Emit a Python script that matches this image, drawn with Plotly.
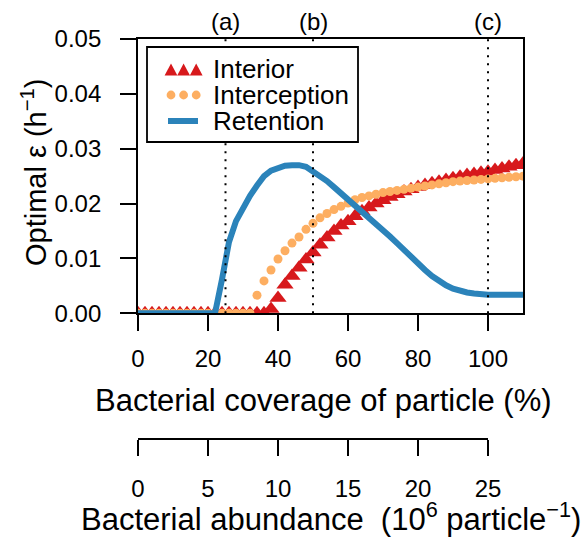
import plotly.graph_objects as go

# ---- data ----
coverage = [0, 2, 4, 6, 8, 10, 12, 14, 16, 18, 20, 22, 24, 26, 28, 30, 32, 34, 36, 38,
            40, 42, 44, 46, 48, 50, 52, 54, 56, 58, 60, 62, 64, 66, 68, 70, 72, 74, 76, 78,
            80, 82, 84, 86, 88, 90, 92, 94, 96, 98, 100, 102, 104, 106, 108, 110]

interior = [0, 0, 0, 0, 0, 0, 0, 0, 0, 0, 0, 0, 0, 0, 0, 0, 0, 0, 0, 0.0008,
            0.0028, 0.0052, 0.0068, 0.0083, 0.0098, 0.0111, 0.0125, 0.0138, 0.0150, 0.0160,
            0.0168, 0.0177, 0.0186, 0.0193, 0.0200, 0.0206, 0.0212, 0.0217, 0.0222, 0.0226,
            0.0230, 0.0234, 0.0237, 0.0240, 0.0243, 0.0246, 0.0249, 0.0252, 0.0254, 0.0256,
            0.0258, 0.0261, 0.0264, 0.0267, 0.0270, 0.0273]

interception = [0, 0, 0, 0, 0, 0, 0, 0, 0, 0, 0, 0, 0, 0, 0, 0, 0, 0.0033, 0.0059, 0.0079,
                0.0099, 0.0114, 0.0128, 0.0139, 0.0153, 0.0164, 0.0174, 0.0182, 0.0189, 0.0195,
                0.0201, 0.0207, 0.0211, 0.0214, 0.0217, 0.0220, 0.0222, 0.0224, 0.0226, 0.0228,
                0.0230, 0.0232, 0.0234, 0.0236, 0.0238, 0.0240, 0.0241, 0.0242, 0.0243, 0.0244,
                0.0245, 0.0246, 0.0247, 0.0248, 0.0249, 0.0250]

retention = [0, 0, 0, 0, 0, 0, 0, 0, 0, 0, 0, 0, 0.0062, 0.0130, 0.0168, 0.0194, 0.0214, 0.0233, 0.0250, 0.0260,
             0.0266, 0.0269, 0.0270, 0.0270, 0.0267, 0.0259, 0.0250, 0.0241, 0.0230, 0.0219,
             0.0208, 0.0198, 0.0187, 0.0176, 0.0164, 0.0152, 0.0140, 0.0128, 0.0115, 0.0103,
             0.0091, 0.0079, 0.0068, 0.0059, 0.0051, 0.0045, 0.0041, 0.0038, 0.0036, 0.0034,
             0.0034, 0.0034, 0.0034, 0.0034, 0.0034, 0.0034]

x_ticks = [0, 20, 40, 60, 80, 100]
y_ticks = [0.00, 0.01, 0.02, 0.03, 0.04, 0.05]
abundance_ticks = [0, 5, 10, 15, 20, 25]          # 10^6 particle^-1
abundance_per_percent = 0.25                        # 25 (10^6) <-> 100 %
marker_x = [25, 50, 100]
marker_labels = ["(a)", "(b)", "(c)"]
series_names = ["Interior", "Interception", "Retention"]

RED, ORANGE, BLUE = "#d7191c", "#fdae61", "#2b83ba"
FONT = "Liberation Sans, Arial, Helvetica, sans-serif"

W, H = 582, 541
ML, MR, MT, MB = 138, 59, 39, 91
pw = W - ML - MR
ph = H - MT - MB


def px(pix):  # pixel column -> paper x
    return (pix - ML) / pw


def py(pix):  # pixel row -> paper y
    return (H - MB - pix) / ph


d0 = py(313.3)
x2pos = py(439)

fig = go.Figure()
fig.add_trace(go.Scatter(x=coverage, y=interior, mode="markers", name=series_names[0],
                         marker=dict(symbol="triangle-up", size=15, color=RED), showlegend=False))
fig.add_trace(go.Scatter(x=coverage, y=interception, mode="markers", name=series_names[1],
                         marker=dict(symbol="circle", size=9, color=ORANGE), showlegend=False))
fig.add_trace(go.Scatter(x=coverage, y=retention, mode="lines", name=series_names[2],
                         line=dict(color=BLUE, width=6), showlegend=False))
# invisible companion on the abundance axis so that axis is rendered
fig.add_trace(go.Scatter(x=[c * abundance_per_percent for c in coverage], y=retention,
                         xaxis="x2", yaxis="y", mode="lines", opacity=0,
                         showlegend=False, hoverinfo="skip"))

tick_common = dict(showgrid=False, zeroline=False, ticks="outside", ticklen=16,
                   tickwidth=1.8, tickcolor="black",
                   tickfont=dict(family=FONT, size=24, color="black"))

fig.update_layout(
    width=W, height=H,
    margin=dict(l=ML, r=MR, t=MT, b=MB),
    paper_bgcolor="white", plot_bgcolor="white",
    showlegend=False,
    xaxis=dict(range=[0, 110], tickvals=x_ticks, showline=True, mirror=True,
               linecolor="black", linewidth=1.8, ticklabelstandoff=7, **tick_common),
    yaxis=dict(range=[0, 0.05], tickvals=y_ticks, tickformat=".2f", showline=True,
               mirror=True, linecolor="black", linewidth=1.8,
               domain=[d0, 1], ticklabelstandoff=14, **tick_common),
    xaxis2=dict(range=[0, 110 * abundance_per_percent], tickvals=abundance_ticks,
                overlaying="x", anchor="free", position=x2pos, side="bottom",
                showline=False, ticklabelstandoff=12, **tick_common),
)

# abundance axis line spans only its tick range
fig.add_shape(type="line", xref="x2", yref="paper", x0=abundance_ticks[0], x1=abundance_ticks[-1],
              y0=x2pos, y1=x2pos, line=dict(color="black", width=1.8))

for xv, lab in zip(marker_x, marker_labels):
    fig.add_shape(type="line", xref="x", yref="y", x0=xv, x1=xv, y0=y_ticks[0], y1=y_ticks[-1],
                  line=dict(color="black", width=2, dash="2px,6px"), layer="above")
    fig.add_annotation(x=xv, xref="x", y=py(22), yref="paper", text=lab, showarrow=False,
                       font=dict(family=FONT, size=24, color="black"), yanchor="middle")

# ---- legend (drawn box, as in the reference) ----
fig.add_shape(type="rect", xref="paper", yref="paper", x0=px(147), x1=px(358),
              y0=py(142), y1=py(47), fillcolor="white",
              line=dict(color="black", width=1.8), layer="above")
row_y = [69, 95, 121]
sym_x = [171, 183.6, 196.2]
for cx in sym_x:
    fig.add_shape(type="path", xref="paper", yref="paper", layer="above",
                  path=f"M{px(cx - 6.4)},{py(75.5)} L{px(cx + 6.4)},{py(75.5)} L{px(cx)},{py(63.5)} Z",
                  fillcolor=RED, line=dict(width=0))
    fig.add_shape(type="circle", xref="paper", yref="paper", layer="above",
                  x0=px(cx - 4.4), x1=px(cx + 4.4), y0=py(row_y[1] + 4.4), y1=py(row_y[1] - 4.4),
                  fillcolor=ORANGE, line=dict(width=0))
fig.add_shape(type="line", xref="paper", yref="paper", layer="above",
              x0=px(168), x1=px(198), y0=py(row_y[2]), y1=py(row_y[2]),
              line=dict(color=BLUE, width=6))
for name, ry in zip(series_names, row_y):
    fig.add_annotation(x=px(211), xref="paper", y=py(ry), yref="paper", text=name,
                       showarrow=False, xanchor="left", yanchor="middle",
                       font=dict(family=FONT, size=26, color="black"))

# ---- axis titles ----
fig.add_annotation(x=px(323), xref="paper", y=py(400), yref="paper",
                   text="Bacterial coverage of particle (%)", showarrow=False,
                   font=dict(family=FONT, size=31, color="black"), yanchor="middle")
fig.add_annotation(x=px(331), xref="paper", y=py(517), yref="paper",
                   text="Bacterial abundance \u00a0(10<sup>6</sup> particle<sup>\u22121</sup>)",
                   showarrow=False, font=dict(family=FONT, size=31, color="black"),
                   yanchor="middle")
fig.add_annotation(x=px(34), xref="paper", y=py(172), yref="paper",
                   text="Optimal \u03b5 (h<sup>\u22121</sup>)", textangle=-90, showarrow=False,
                   font=dict(family=FONT, size=29, color="black"),
                   xanchor="center", yanchor="middle")

fig.write_html("out.html", config={"displayModeBar": False},
               post_script="document.body.style.margin='0px';")
